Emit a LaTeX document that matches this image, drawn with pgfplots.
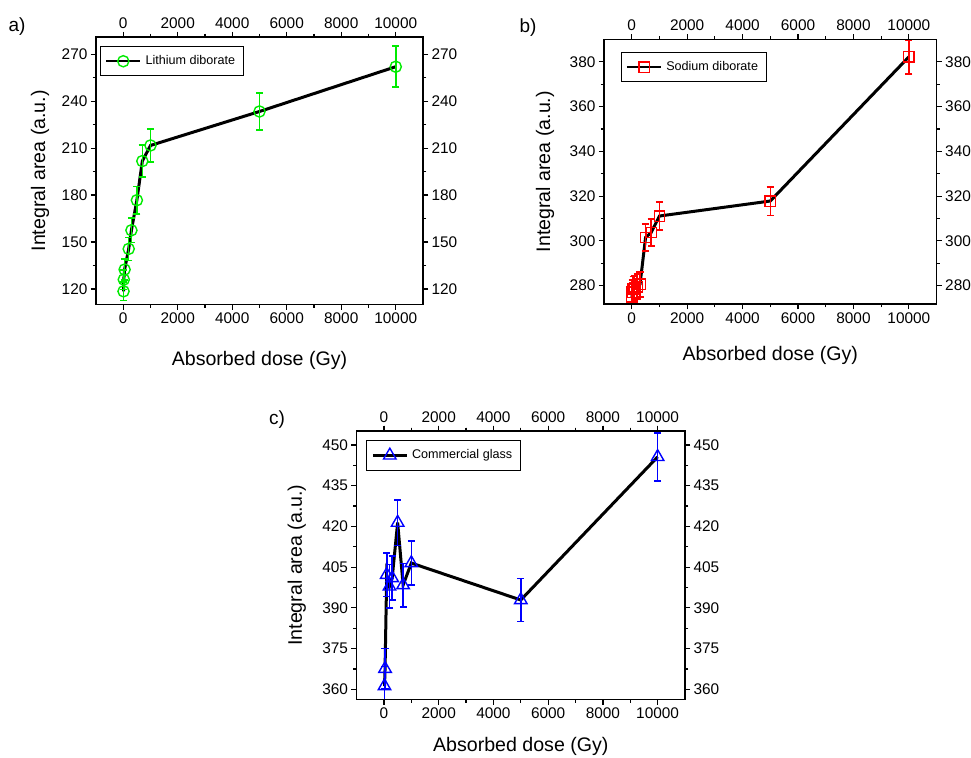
\documentclass[border=0pt]{standalone}
\usepackage{fontspec}
\setmainfont{Liberation Sans}
\usepackage{pgfplots}
\usepackage{pgfplotstable}
\pgfplotsset{compat=1.18}

\definecolor{lgreen}{RGB}{0,235,0}
\definecolor{lred}{RGB}{255,0,0}
\definecolor{lblue}{RGB}{0,0,255}

% dose (Gy), integral area (a.u.), error
\pgfplotstableread{
x y e
10 118.5 5.9
20 126.0 6.3
50 132.4 6.6
200 145.6 7.3
300 157.5 7.9
500 176.7 8.8
700 201.7 10.1
1000 211.7 10.6
5000 233.4 11.7
10000 262.0 13.1
}\lithium

\pgfplotstableread{
x y e
10 275.0 5.5
20 277.0 5.5
50 278.5 5.6
100 279.0 5.6
200 279.5 5.6
300 280.6 5.6
500 301.5 6.0
700 303.7 6.1
1000 311.1 6.2
5000 317.8 6.4
10000 382.2 7.6
}\sodium

\pgfplotstableread{
x y e
20 361.2 7.2
40 367.6 7.4
100 402.2 8.0
200 397.9 8.0
300 401.0 8.0
500 421.4 8.4
700 398.4 8.0
1000 406.5 8.1
5000 392.9 7.9
10000 445.6 8.9
}\commercial

\pgfplotsset{
  panel/.style={
    scale only axis,
    xmin=-1000, xmax=11000,
    xtick={0,2000,...,10000},
    scaled x ticks=false,
    scaled y ticks=false,
    minor x tick num=1,
    minor y tick num=1,
    tick align=outside,
    major tick length=2.6pt,
    minor tick length=1.6pt,
    tick style={black, line width=0.6pt},
    axis line style={black, line width=0.7pt},
    every tick label/.append style={font=\fontsize{7.7}{9}\selectfont, inner sep=1.5pt},
    /pgf/number format/assume math mode=true,
    /pgf/number format/1000 sep={},
    label style={font=\fontsize{9.8}{11}\selectfont},
    legend style={font=\fontsize{6.3}{7.5}\selectfont, draw=black, line width=0.5pt,
      inner sep=2.3pt, legend cell align=left, anchor=north west},
    legend image post style={line width=1.2pt},
  },
  twin/.style={panel, xticklabel pos=right, yticklabel pos=right},
  errs/.style={
    error bars/y dir=both, error bars/y explicit,
    error bars/error bar style={line width=0.8pt, color=#1},
    error bars/error mark options={rotate=90, mark size=1.8pt, line width=0.8pt, color=#1},
  },
}

\begin{document}
\begin{tikzpicture}
\useasboundingbox (0,0) rectangle (485.5pt,378.5pt);

% a) lithium diborate
\begin{axis}[panel, at={(48pt,226.2pt)}, anchor=south west,
    width=163.5pt, height=133.8pt,
    ymin=110, ymax=281, ytick={120,150,...,270},
    xlabel={Absorbed dose (Gy)}, ylabel={Integral area (a.u.)},
    xlabel style={at={(axis description cs:0.5,-0.209)}, anchor=center},
    ylabel style={at={(axis description cs:-0.171,0.5)}, anchor=center},
    legend style={at={(0.012,0.966)}}]
\addplot[black, line width=1.5pt, mark=o, mark size=2.8pt,
    mark options={draw=lgreen, fill=white, line width=0.7pt}, errs=lgreen]
    table[x=x, y=y, y error=e] {\lithium};
\legend{Lithium diborate}
\end{axis}
\begin{axis}[twin, at={(48pt,226.2pt)}, anchor=south west,
    width=163.5pt, height=133.8pt,
    ymin=110, ymax=281, ytick={120,150,...,270}]
\end{axis}

% b) sodium diborate
\begin{axis}[panel, at={(302pt,226.5pt)}, anchor=south west,
    width=166.3pt, height=132.3pt,
    ymin=271.8, ymax=390, ytick={280,300,...,380},
    xlabel={Absorbed dose (Gy)}, ylabel={Integral area (a.u.)},
    xlabel style={at={(axis description cs:0.5,-0.193)}, anchor=center},
    ylabel style={at={(axis description cs:-0.177,0.5)}, anchor=center},
    legend style={at={(0.05,0.953)}}]
\addplot[black, line width=1.5pt, mark=square, mark size=2.6pt,
    mark options={draw=lred, fill=white, line width=0.7pt}, errs=lred]
    table[x=x, y=y, y error=e] {\sodium};
\legend{Sodium diborate}
\end{axis}
\begin{axis}[twin, at={(302pt,226.5pt)}, anchor=south west,
    width=166.3pt, height=132.3pt,
    ymin=271.8, ymax=390, ytick={280,300,...,380}]
\end{axis}

% c) commercial glass
\begin{axis}[panel, at={(178.3pt,28.8pt)}, anchor=south west,
    width=164.2pt, height=134.3pt,
    ymin=356.3, ymax=455.2, ytick={360,375,...,450},
    xlabel={Absorbed dose (Gy)}, ylabel={Integral area (a.u.)},
    xlabel style={at={(axis description cs:0.5,-0.175)}, anchor=center},
    ylabel style={at={(axis description cs:-0.182,0.5)}, anchor=center},
    legend style={at={(0.03,0.965)}}]
\addplot[black, line width=1.5pt, mark=triangle, mark size=3.6pt,
    mark options={draw=lblue, fill=white, line width=0.7pt}, errs=lblue]
    table[x=x, y=y, y error=e] {\commercial};
\legend{Commercial glass}
\end{axis}
\begin{axis}[twin, at={(178.3pt,28.8pt)}, anchor=south west,
    width=164.2pt, height=134.3pt,
    ymin=356.3, ymax=455.2, ytick={360,375,...,450}]
\end{axis}

\node[font=\fontsize{9.5}{11}\selectfont] at (8.5pt,365pt) {a)};
\node[font=\fontsize{9.5}{11}\selectfont] at (264pt,364.5pt) {b)};
\node[font=\fontsize{9.5}{11}\selectfont] at (138.5pt,168.5pt) {c)};
\end{tikzpicture}
\end{document}
